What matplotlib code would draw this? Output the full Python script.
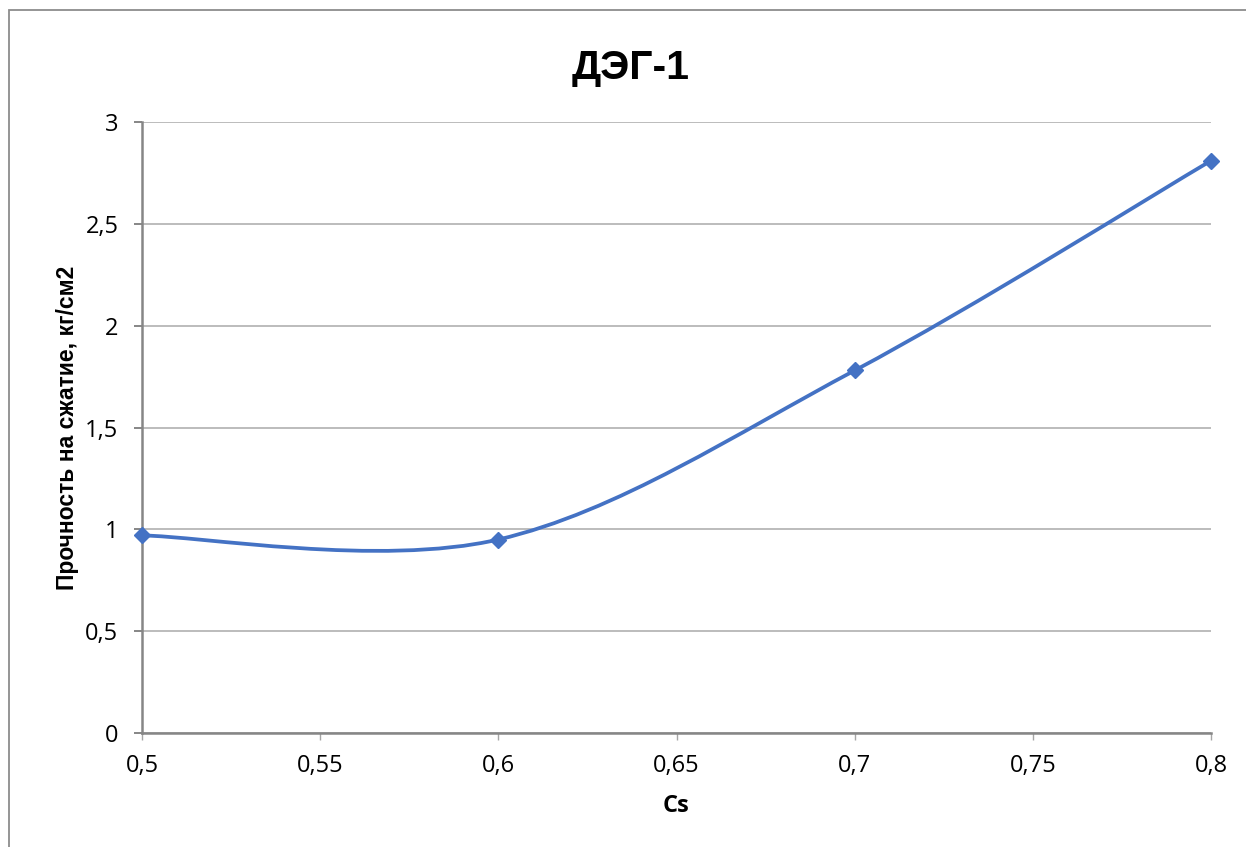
import matplotlib
matplotlib.use("Agg")
import matplotlib.pyplot as plt
import matplotlib.patches as patches
from matplotlib.path import Path
from matplotlib.ticker import FuncFormatter
import numpy as np

# data
cs = [0.5, 0.6, 0.7, 0.8]
strength = [0.97, 0.95, 1.78, 2.81]

x_ticks = [0.5, 0.55, 0.6, 0.65, 0.7, 0.75, 0.8]
y_ticks = [0, 0.5, 1, 1.5, 2, 2.5, 3]

title = "ДЭГ-1"
x_label = "Cs"
y_label = "Прочность на сжатие, кг/см2"

line_color = "#4472C4"
axis_color = "#868686"
grid_color = "#bcbcbc"


def smooth_path(xs, ys):
    # Excel-like smoothed line: cubic bezier segments with 1/6 tangents
    pts = np.column_stack([xs, ys]).astype(float)
    n = len(pts)
    verts = [pts[0]]
    codes = [Path.MOVETO]
    for i in range(n - 1):
        p0 = pts[i - 1] if i > 0 else pts[i]
        p1 = pts[i]
        p2 = pts[i + 1]
        p3 = pts[i + 2] if i + 2 < n else pts[i + 1]
        c1 = p1 + (p2 - p0) / 6.0
        c2 = p2 - (p3 - p1) / 6.0
        verts += [c1, c2, p2]
        codes += [Path.CURVE4] * 3
    return Path(verts, codes)


def comma_fmt(v, pos):
    s = ("%g" % round(v, 4))
    return s.replace(".", ",")


fig = plt.figure(figsize=(12.46, 8.47), dpi=100)
ax = fig.add_axes([142 / 1246, 1 - 733 / 847, 1069 / 1246, 611 / 847])

tick_family = ["Open Sans", "DejaVu Sans"]

# chart area border (only top/left visible in the crop)
fig.patches.append(patches.Rectangle((9 / 1246, -0.1), 1.2, 1.1 - 10 / 847,
                                     transform=fig.transFigure, fill=False,
                                     edgecolor="#8c8c8c", linewidth=1.3))

ax.add_patch(patches.PathPatch(smooth_path(cs, strength), fill=False,
                               edgecolor=line_color, linewidth=2.7,
                               capstyle="round", joinstyle="round", zorder=3))
ax.plot(cs, strength, linestyle="none", marker="D", markersize=8,
        color=line_color, clip_on=False, zorder=4)

ax.set_xlim(0.5, 0.8)
ax.set_ylim(0, 3)
ax.set_xticks(x_ticks)
ax.set_yticks(y_ticks)
ax.xaxis.set_major_formatter(FuncFormatter(comma_fmt))
ax.yaxis.set_major_formatter(FuncFormatter(comma_fmt))

ax.grid(True, axis="y", color=grid_color, linewidth=1.4)
ax.set_axisbelow(True)
for side in ["top", "right"]:
    ax.spines[side].set_visible(False)
for side in ["left", "bottom"]:
    ax.spines[side].set_color(axis_color)
    ax.spines[side].set_linewidth(1.8)

ax.tick_params(axis="x", direction="out", length=5, width=1, color="#a6a6a6", pad=10)
ax.tick_params(axis="y", direction="out", length=6, width=1.4, color=axis_color, pad=11)
for lab in ax.get_xticklabels() + ax.get_yticklabels():
    lab.set_fontfamily(tick_family)
    lab.set_fontsize(17)
    lab.set_color("black")

fig.text(631 / 1246, 1 - 68 / 847, title, fontsize=29.5, fontweight="bold",
         family=["Liberation Sans", "DejaVu Sans"], ha="center", va="center")

ax.set_xlabel(x_label, fontsize=17, fontweight="bold",
              family=tick_family, va="center")
ax.xaxis.set_label_coords(0.5, (733 - 806) / 611)
ax.set_ylabel(y_label, fontsize=16.5, fontweight="bold",
              family=["Liberation Sans", "DejaVu Sans"], va="center")
ax.yaxis.set_label_coords((68 - 142) / 1069, 0.5)

fig.savefig("out.png", dpi=100)
